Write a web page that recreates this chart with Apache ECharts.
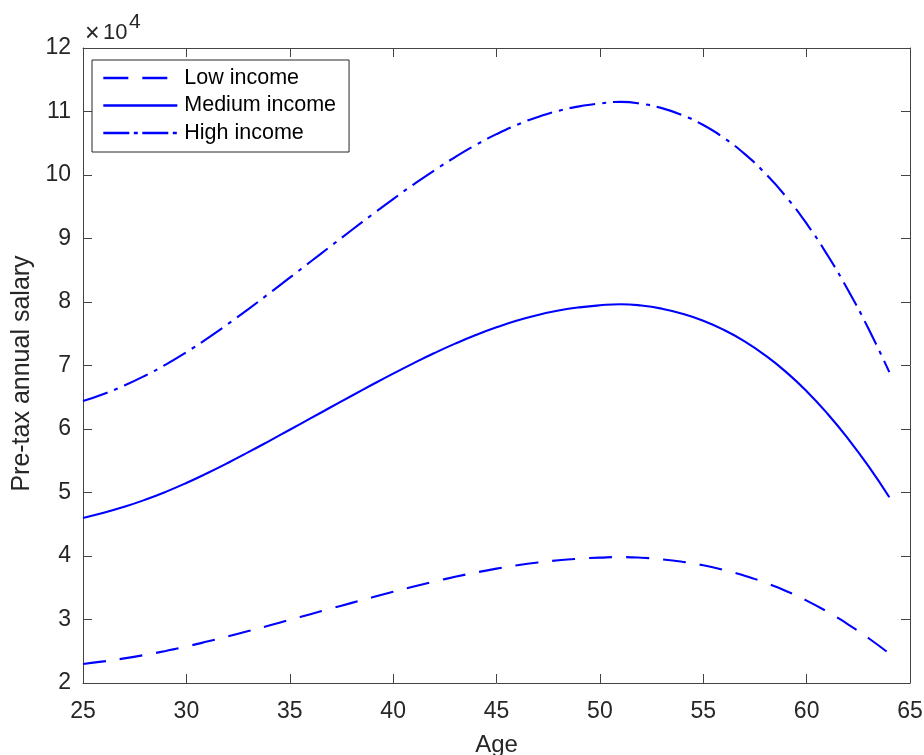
<!DOCTYPE html>
<html>
<head>
<meta charset="utf-8">
<script src="https://cdn.jsdelivr.net/npm/echarts@6/dist/echarts.min.js"></script>
<style>
html, body { margin: 0; padding: 0; background: #ffffff; }
#chart { width: 924px; height: 755px; }
</style>
</head>
<body>
<div id="chart"></div>
<script>
const ages = [25,26,27,28,29,30,31,32,33,34,35,36,37,38,39,40,41,42,43,44,45,46,47,48,49,50,51,52,53,54,55,56,57,58,59,60,61,62,63,64];
const lowIncome = [23000,23400,23880,24430,25050,25750,26520,27330,28180,29050,29940,30840,31730,32620,33500,34360,35190,35980,36720,37400,38010,38540,38980,39330,39580,39740,39830,39730,39480,39080,38530,37800,36900,35800,34500,32980,31230,29250,27050,24630];
const mediumIncome = [46000,46800,47750,48850,50100,51500,53030,54650,56350,58100,59880,61670,63460,65240,67000,68720,70380,71960,73440,74800,76020,77080,77960,78650,79150,79480,79650,79450,78950,78150,77050,75600,73800,71600,69000,65950,62450,58500,54100,49250];
const highIncome = [64400,65520,66850,68390,70140,72100,74240,76510,78890,81340,83830,86340,88840,91340,93800,96210,98530,100740,102820,104720,106430,107910,109140,110110,110810,111270,111510,111230,110530,109410,107870,105840,103320,100240,96600,92330,87430,81900,75740,68950];
const seriesNames = ['Low income', 'Medium income', 'High income'];
const xTicks = { min: 25, max: 65, interval: 5 };
const yTicks = { min: 20000, max: 120000, interval: 10000 };
const yScaleLabel = { times: '\u00d7', base: '10', exp: '4' };

const pairs = (ys) => ages.map((a, i) => [a, ys[i]]);
const font = "'Liberation Sans', Arial, sans-serif";
const axisColor = '#444444';
const textColor = '#262626';

const chart = echarts.init(document.getElementById('chart'), null, { renderer: 'canvas' });

const baseX = {
  type: 'value', min: xTicks.min, max: xTicks.max, interval: xTicks.interval,
  splitLine: { show: false },
  axisLine: { show: true, lineStyle: { color: axisColor, width: 1 } },
  axisTick: { show: true, inside: true, length: 9, lineStyle: { color: axisColor } }
};
const baseY = {
  type: 'value', min: yTicks.min, max: yTicks.max, interval: yTicks.interval,
  splitLine: { show: false },
  axisLine: { show: true, lineStyle: { color: axisColor, width: 1 } },
  axisTick: { show: true, inside: true, length: 9, lineStyle: { color: axisColor } }
};

const lineTypes = [[23, 14], 'solid', [26, 7, 4, 7]];
const legendLineTypes = [[25, 14], 'solid', [26, 4.5, 4, 4.5]];
const data = [lowIncome, mediumIncome, highIncome];

chart.setOption({
  animation: false,
  backgroundColor: '#ffffff',
  grid: { left: 83, right: 14, top: 48, bottom: 72, containLabel: false, outerBoundsMode: 'none' },
  xAxis: [
    Object.assign({}, baseX, {
      position: 'bottom',
      name: 'Age', nameLocation: 'middle', nameGap: 50,
      nameTextStyle: { fontFamily: font, fontSize: 24, color: textColor },
      axisLabel: { show: true, margin: 17, fontFamily: font, fontSize: 23, color: textColor }
    }),
    Object.assign({}, baseX, { position: 'top', axisLabel: { show: false } })
  ],
  yAxis: [
    Object.assign({}, baseY, {
      position: 'left',
      name: 'Pre-tax annual salary', nameLocation: 'middle', nameGap: 48,
      nameTextStyle: { fontFamily: font, fontSize: 25, color: textColor, padding: [0, 16, 0, 0] },
      axisLabel: { show: true, margin: 12, fontFamily: font, fontSize: 23, color: textColor,
        formatter: (v) => String(v / 10000) }
    }),
    Object.assign({}, baseY, { position: 'right', axisLabel: { show: false } })
  ],
  legend: {
    show: true,
    orient: 'vertical',
    left: 92, top: 60,
    padding: [7, 13, 8, 10],
    itemGap: 5.5,
    itemWidth: 74,
    itemHeight: 22,
    borderColor: '#262626',
    borderWidth: 1,
    backgroundColor: '#ffffff',
    itemStyle: { opacity: 0, color: 'rgba(0,0,0,0)', borderWidth: 0 },
    textStyle: { fontFamily: font, fontSize: 21.5, color: '#000000', lineHeight: 22, padding: [0, 0, 0, 2] },
    data: seriesNames.map((n, i) => ({ name: n, lineStyle: { type: legendLineTypes[i], width: 2.6, color: '#0000ff' } }))
  },
  graphic: [
    { type: 'text', left: 85, top: 22, style: { text: yScaleLabel.times, font: '25px ' + font, fill: textColor } },
    { type: 'text', left: 103, top: 22, style: { text: yScaleLabel.base, font: '22px ' + font, fill: textColor } },
    { type: 'text', left: 129, top: 12, style: { text: yScaleLabel.exp, font: '21px ' + font, fill: textColor } }
  ],
  series: seriesNames.map((name, i) => ({
    name: name,
    type: 'line',
    xAxisIndex: 0, yAxisIndex: 0,
    data: pairs(data[i]),
    symbol: 'none',
    smooth: true,
    lineStyle: { color: '#0000ff', width: 2.1, type: lineTypes[i] },
    itemStyle: { color: '#0000ff' }
  }))
});
</script>
</body>
</html>
